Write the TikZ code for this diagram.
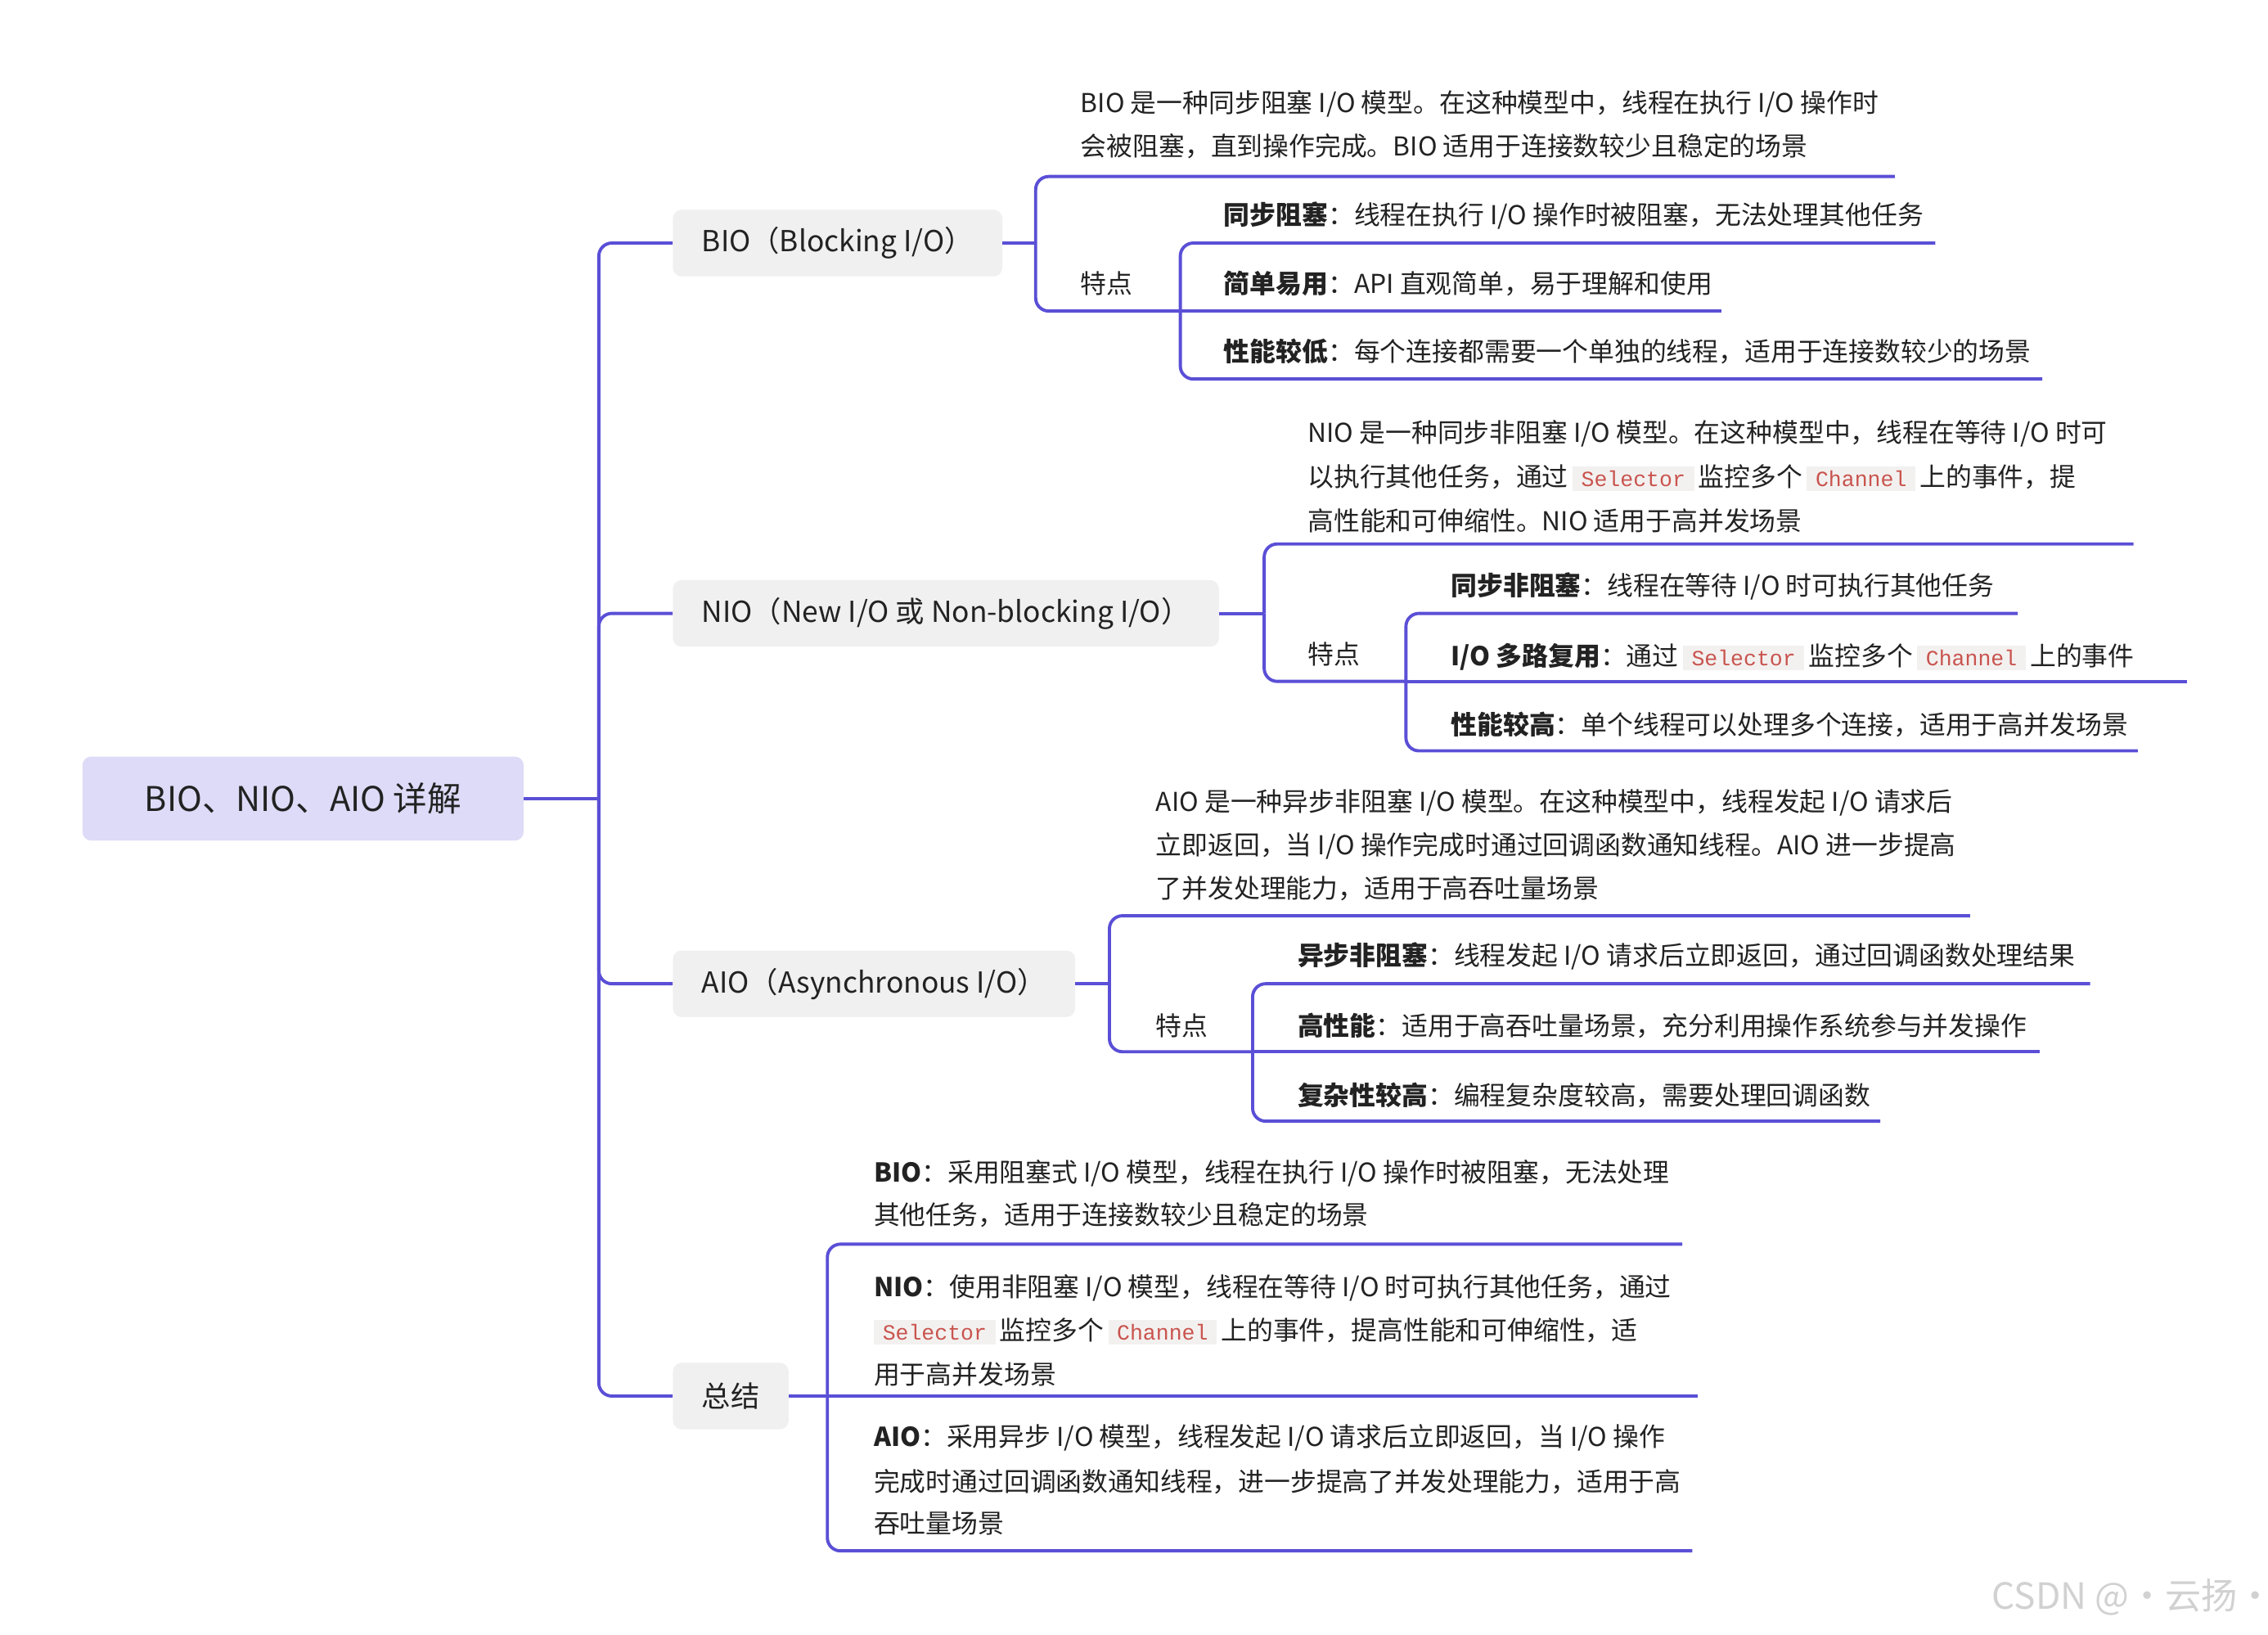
\documentclass[tikz,border=0pt]{standalone}
\usepackage{fontspec}
\setmainfont{Noto Sans CJK SC}
\setmonofont{Liberation Mono}
\definecolor{ln}{HTML}{5A4FD6}
\definecolor{rootbg}{HTML}{DDDBF7}
\definecolor{brbg}{HTML}{F0F0F0}
\definecolor{codebg}{HTML}{F3F1F0}
\definecolor{codefg}{HTML}{C9544E}
\definecolor{txt}{HTML}{222222}
\newcommand{\cd}[1]{\hspace{3pt}{\setlength{\fboxsep}{3pt}\colorbox{codebg}{\hspace{3pt}\ttfamily\fontsize{15}{15}\selectfont\color{codefg}#1\hspace{3pt}}}\hspace{3pt}}
\begin{document}
\begin{tikzpicture}[x=1pt,y=-1pt,
  tl/.style={anchor=west,inner sep=0,text=txt,font=\fontsize{18}{20}\selectfont},
  br/.style={fill=brbg,rounded corners=6,anchor=west,inner xsep=20,inner ysep=0,minimum height=46,text=txt,font=\fontsize{20}{22}\selectfont},
  ln/.style={draw=ln,line width=2.2pt,rounded corners=9}]
\useasboundingbox (0,0) rectangle (1568,1130);
\begin{scope}
\clip (0,0) rectangle (1568,1130);
% root
\node[fill=rootbg,rounded corners=6,minimum width=305,minimum height=58,inner sep=0,text=txt,font=\fontsize{23.5}{25}\selectfont] (root) at (209.5,552) {BIO、NIO、AIO 详解};
% branches
\node[br] (bio) at (465,168) {BIO（Blocking I/O）};
\node[br] (nio) at (465,424) {NIO（New I/O 或 Non-blocking I/O）};
\node[br] (aio) at (465,680) {AIO（Asynchronous I/O）};
\node[br] (sum) at (465,965) {总结};
\coordinate (tr) at (414,552);
\draw[ln] (root.east) -- (tr);
\foreach \n in {bio,nio,aio,sum} \draw[ln] (tr) |- (\n.west);
% BIO
\coordinate (bv) at (716,168);
\draw[ln] (bio.east) -- (bv);
\draw[ln] (bv) -- (716,122) -- (1310,122);
\draw[ln] (bv) -- (716,215) -- (816,215);
\coordinate (bv2) at (816,215);
\draw[ln] (bv2) -- (816,168) -- (1338,168);
\draw[ln] (bv2) -- (1190,215);
\draw[ln] (bv2) -- (816,262) -- (1412,262);
\node[tl] at (747,72) {BIO 是一种同步阻塞 I/O 模型。在这种模型中，线程在执行 I/O 操作时};
\node[tl] at (747,101) {会被阻塞，直到操作完成。BIO 适用于连接数较少且稳定的场景};
\node[tl] (bt) at (747,196) {特点};
\node[tl] at (846,149) {\textbf{同步阻塞}：线程在执行 I/O 操作时被阻塞，无法处理其他任务};
\node[tl] at (846,196) {\textbf{简单易用}：API 直观简单，易于理解和使用};
\node[tl] at (846,243) {\textbf{性能较低}：每个连接都需要一个单独的线程，适用于连接数较少的场景};
% NIO
\coordinate (nv) at (874,424);
\draw[ln] (nio.east) -- (nv);
\draw[ln] (nv) -- (874,376) -- (1475,376);
\draw[ln] (nv) -- (874,471) -- (972,471);
\coordinate (nv2) at (972,471);
\draw[ln] (nv2) -- (972,424) -- (1395,424);
\draw[ln] (nv2) -- (1512,471);
\draw[ln] (nv2) -- (972,519) -- (1478,519);
\node[tl] at (904,300) {NIO 是一种同步非阻塞 I/O 模型。在这种模型中，线程在等待 I/O 时可};
\node[tl] at (904,330) {以执行其他任务，通过\cd{Selector}监控多个\cd{Channel}上的事件，提};
\node[tl] at (904,360) {高性能和可伸缩性。NIO 适用于高并发场景};
\node[tl] at (904,452) {特点};
\node[tl] at (1003,405) {\textbf{同步非阻塞}：线程在等待 I/O 时可执行其他任务};
\node[tl] at (1003,454) {\textbf{I/O 多路复用}：通过\cd{Selector}监控多个\cd{Channel}上的事件};
\node[tl] at (1003,501) {\textbf{性能较高}：单个线程可以处理多个连接，适用于高并发场景};
% AIO
\coordinate (av) at (767,680);
\draw[ln] (aio.east) -- (av);
\draw[ln] (av) -- (767,633) -- (1362,633);
\draw[ln] (av) -- (767,727) -- (866,727);
\coordinate (av2) at (866,727);
\draw[ln] (av2) -- (866,680) -- (1445,680);
\draw[ln] (av2) -- (1410,727);
\draw[ln] (av2) -- (866,775) -- (1300,775);
\node[tl] at (799,555) {AIO 是一种异步非阻塞 I/O 模型。在这种模型中，线程发起 I/O 请求后};
\node[tl] at (799,585) {立即返回，当 I/O 操作完成时通过回调函数通知线程。AIO 进一步提高};
\node[tl] at (799,614) {了并发处理能力，适用于高吞吐量场景};
\node[tl] at (799,709) {特点};
\node[tl] at (897,661) {\textbf{异步非阻塞}：线程发起 I/O 请求后立即返回，通过回调函数处理结果};
\node[tl] at (897,709) {\textbf{高性能}：适用于高吞吐量场景，充分利用操作系统参与并发操作};
\node[tl] at (897,757) {\textbf{复杂性较高}：编程复杂度较高，需要处理回调函数};
% Summary
\coordinate (sv) at (572,965);
\draw[ln] (sum.east) -- (sv);
\draw[ln] (sv) -- (572,860) -- (1163,860);
\draw[ln] (sv) -- (1174,965);
\draw[ln] (sv) -- (572,1072) -- (1170,1072);
\node[tl] at (604,811) {\textbf{BIO}：采用阻塞式 I/O 模型，线程在执行 I/O 操作时被阻塞，无法处理};
\node[tl] at (604,840) {其他任务，适用于连接数较少且稳定的场景};
\node[tl] at (604,890) {\textbf{NIO}：使用非阻塞 I/O 模型，线程在等待 I/O 时可执行其他任务，通过};
\node[tl] at (604,920) {\hspace{-3pt}\cd{Selector}监控多个\cd{Channel}上的事件，提高性能和可伸缩性，适};
\node[tl] at (604,950) {用于高并发场景};
\node[tl] at (604,994) {\textbf{AIO}：采用异步 I/O 模型，线程发起 I/O 请求后立即返回，当 I/O 操作};
\node[tl] at (604,1024) {完成时通过回调函数通知线程，进一步提高了并发处理能力，适用于高};
\node[tl] at (604,1053) {吞吐量场景};
\node[anchor=west,inner sep=0,text=black!18,font=\fontsize{25}{26}\selectfont] (wm) at (1377,1104) {CSDN @·云扬·};
\end{scope}
\end{tikzpicture}
\end{document}
